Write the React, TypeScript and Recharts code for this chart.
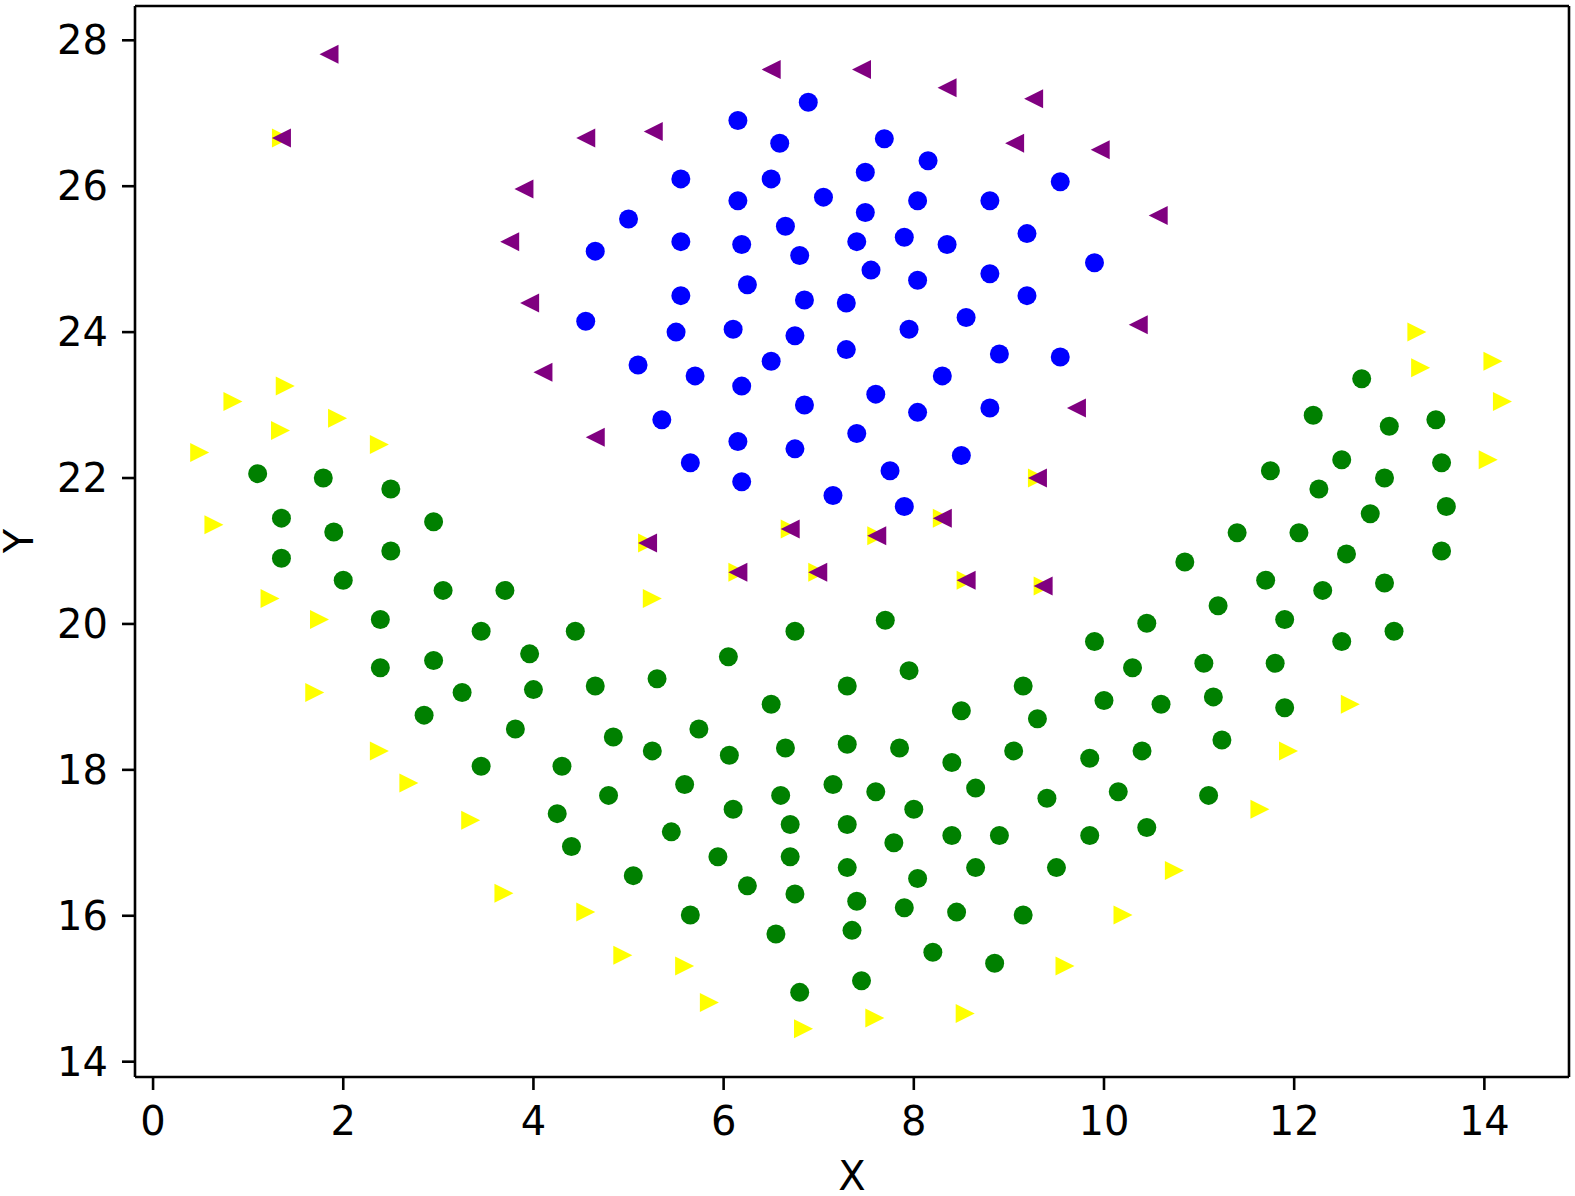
import React from 'react';
import { ScatterChart, Scatter, XAxis, YAxis, ReferenceLine } from 'recharts';

const xTicks = [0, 2, 4, 6, 8, 10, 12, 14];
const yTicks = [14, 16, 18, 20, 22, 24, 26, 28];
const xDomain: [number, number] = [-0.19, 14.89];
const yDomain: [number, number] = [13.79, 28.47];

const greenPoints: [number, number][] = [
  [1.10, 22.06], [1.79, 22.00], [2.50, 21.85], [1.35, 21.45], [1.90, 21.26], [2.95, 21.40], [1.35, 20.90],
  [2.50, 21.00], [2.00, 20.60], [3.05, 20.46], [3.70, 20.46], [2.39, 20.06], [3.45, 19.90], [4.44, 19.90],
  [3.96, 19.59], [2.39, 19.40], [2.95, 19.50], [4.00, 19.10], [3.25, 19.06], [4.65, 19.15], [5.30, 19.25],
  [6.05, 19.55], [2.85, 18.75], [3.81, 18.56], [4.84, 18.45], [5.74, 18.56], [5.25, 18.26], [6.06, 18.20],
  [3.45, 18.05], [4.30, 18.05], [5.59, 17.80], [4.79, 17.65], [4.25, 17.40], [6.10, 17.46], [4.40, 16.95],
  [5.45, 17.15], [5.05, 16.55], [5.94, 16.81], [6.25, 16.41], [5.65, 16.01], [6.55, 15.75],
  [6.75, 19.90], [7.70, 20.05], [7.30, 19.15], [7.95, 19.36], [6.50, 18.90], [8.50, 18.81], [6.65, 18.30],
  [7.30, 18.35], [7.85, 18.30], [8.40, 18.10], [7.15, 17.80], [6.60, 17.65], [7.60, 17.70], [8.65, 17.75],
  [8.00, 17.46], [6.70, 17.25], [7.30, 17.25], [8.40, 17.10], [7.79, 17.00], [8.90, 17.10], [6.70, 16.81],
  [7.30, 16.66], [8.65, 16.66], [8.04, 16.51], [6.75, 16.30], [7.40, 16.20], [7.90, 16.11], [8.45, 16.05],
  [9.15, 16.01], [7.35, 15.80], [8.20, 15.50], [8.85, 15.35], [7.45, 15.11], [6.80, 14.95], [9.50, 16.66],
  [9.40, 17.61], [9.30, 18.70], [9.15, 19.15], [9.05, 18.26],
  [9.90, 19.76], [10.00, 18.95], [10.30, 19.40], [10.45, 20.01], [9.85, 18.16], [10.40, 18.26], [10.60, 18.90],
  [10.15, 17.70], [9.85, 17.10], [10.45, 17.21], [10.85, 20.85], [11.20, 20.25], [11.05, 19.46], [11.15, 19.00],
  [11.24, 18.41], [11.10, 17.65], [11.40, 21.25], [11.70, 20.60], [11.75, 22.10], [12.05, 21.25], [11.90, 20.06],
  [11.80, 19.46], [11.90, 18.85], [12.20, 22.86], [12.26, 21.85], [12.50, 22.25], [12.30, 20.46], [12.55, 20.96],
  [12.50, 19.76], [12.71, 23.36], [12.80, 21.51], [13.00, 22.71], [12.95, 22.00], [12.95, 20.56], [13.05, 19.90],
  [13.49, 22.80], [13.55, 22.21], [13.60, 21.61], [13.55, 21.00],
];

const bluePoints: [number, number][] = [
  [6.89, 27.15], [6.15, 26.90], [6.59, 26.59], [7.69, 26.65], [8.15, 26.35], [5.55, 26.10], [6.50, 26.10],
  [7.49, 26.19], [9.54, 26.06], [7.05, 25.85], [6.15, 25.80], [7.49, 25.64], [8.04, 25.80], [8.80, 25.80],
  [5.00, 25.55], [6.65, 25.45], [9.19, 25.35], [4.65, 25.11], [5.55, 25.24], [6.19, 25.20], [7.40, 25.24],
  [7.90, 25.30], [8.35, 25.20], [6.80, 25.05], [9.90, 24.95], [7.55, 24.85], [8.80, 24.80], [6.25, 24.65],
  [8.04, 24.71], [5.55, 24.50], [6.85, 24.44], [7.29, 24.40], [9.19, 24.50], [4.55, 24.15], [8.55, 24.20],
  [5.50, 24.00], [6.10, 24.04], [6.75, 23.95], [7.95, 24.04], [7.29, 23.76], [8.90, 23.70], [9.54, 23.66],
  [5.10, 23.55], [6.50, 23.60], [5.70, 23.40], [8.30, 23.40], [6.19, 23.26], [7.60, 23.15], [6.85, 23.00],
  [8.80, 22.96], [8.04, 22.90], [5.35, 22.80], [7.40, 22.61], [6.15, 22.50], [6.75, 22.40], [8.50, 22.31],
  [5.65, 22.21], [7.75, 22.10], [6.19, 21.95], [7.15, 21.76], [7.90, 21.61],
];

const yellowPoints: [number, number][] = [
  [13.29, 24.00], [14.09, 23.60], [13.33, 23.51], [14.19, 23.05], [14.04, 22.25], [1.39, 23.26], [0.84, 23.05],
  [1.34, 22.65], [1.94, 22.82], [2.38, 22.46], [0.49, 22.35], [0.64, 21.36], [1.23, 20.35], [1.75, 20.06],
  [1.70, 19.06], [2.38, 18.26], [2.69, 17.82], [3.34, 17.31], [3.69, 16.31], [4.55, 16.05], [4.94, 15.46],
  [5.59, 15.31], [5.85, 14.81], [6.84, 14.45], [7.59, 14.60], [8.54, 14.66], [9.59, 15.31], [10.20, 16.01],
  [10.74, 16.62], [11.64, 17.46], [11.94, 18.26], [12.59, 18.90], [5.25, 20.35],
  [1.35, 26.66], [9.30, 22.00], [5.20, 21.11], [6.70, 21.30], [7.61, 21.21], [8.30, 21.45], [6.15, 20.71],
  [6.99, 20.71], [8.55, 20.60], [9.36, 20.52],
];

const purplePoints: [number, number][] = [
  [1.85, 27.81], [1.35, 26.66], [4.55, 26.66], [5.26, 26.75], [6.50, 27.60], [7.45, 27.60], [8.35, 27.35],
  [9.26, 27.20], [9.06, 26.59], [9.96, 26.50], [10.57, 25.60], [3.90, 25.96], [3.75, 25.24], [3.96, 24.40],
  [4.10, 23.45], [4.65, 22.56], [10.36, 24.10], [9.71, 22.96], [9.30, 22.00], [5.20, 21.11], [6.70, 21.30],
  [7.61, 21.21], [8.30, 21.45], [6.15, 20.71], [6.99, 20.71], [8.55, 20.60], [9.36, 20.52],
];

const toData = (arr: [number, number][]) => arr.map(([x, y]) => ({ x, y }));

const R = 9.5;
const circleShape = (color: string) => (p: any) => (
  <circle cx={p.cx} cy={p.cy} r={R} fill={color} />
);
const rightTri = (color: string) => (p: any) => (
  <path d={`M ${p.cx + R} ${p.cy} L ${p.cx - R} ${p.cy - R} L ${p.cx - R} ${p.cy + R} Z`} fill={color} />
);
const leftTri = (color: string) => (p: any) => (
  <path d={`M ${p.cx - R} ${p.cy} L ${p.cx + R} ${p.cy - R} L ${p.cx + R} ${p.cy + R} Z`} fill={color} />
);

const FONT = 'DejaVu Sans';
const tickStyle = { fill: '#000', fontSize: 40, fontFamily: FONT };
const lineStyle = { stroke: '#000', strokeWidth: 2.6 };

export default function App() {
  return (
    <div style={{ position: 'absolute', left: 0, top: 0, background: '#fff' }}>
      <ScatterChart width={1575} height={1196} margin={{ top: 6, right: 6, left: 10, bottom: 59 }}>
        <XAxis
          type="number"
          dataKey="x"
          domain={xDomain}
          ticks={xTicks}
          allowDataOverflow
          height={60}
          tickSize={13}
          tickMargin={17}
          tick={tickStyle}
          tickLine={lineStyle}
          axisLine={lineStyle}
          label={{
            content: () => (
              <text x={852} y={1190} textAnchor="middle" fontSize={40} fontFamily={FONT} fill="#000">X</text>
            ),
          }}
        />
        <YAxis
          type="number"
          dataKey="y"
          domain={yDomain}
          ticks={yTicks}
          allowDataOverflow
          width={125}
          tickSize={13}
          tickMargin={14}
          tick={tickStyle}
          tickLine={lineStyle}
          axisLine={lineStyle}
          label={{
            content: () => (
              <text x={33} y={541} textAnchor="middle" fontSize={40} fontFamily={FONT} fill="#000" transform="rotate(-90, 33, 541)">Y</text>
            ),
          }}
        />
        <ReferenceLine x={xDomain[1]} stroke="#000" strokeWidth={2.6} />
        <ReferenceLine y={yDomain[1]} stroke="#000" strokeWidth={2.6} />
        <Scatter data={toData(greenPoints)} shape={circleShape('#008000')} isAnimationActive={false} />
        <Scatter data={toData(bluePoints)} shape={circleShape('#0000ff')} isAnimationActive={false} />
        <Scatter data={toData(yellowPoints)} shape={rightTri('#ffff00')} isAnimationActive={false} />
        <Scatter data={toData(purplePoints)} shape={leftTri('#800080')} isAnimationActive={false} />
      </ScatterChart>
    </div>
  );
}
